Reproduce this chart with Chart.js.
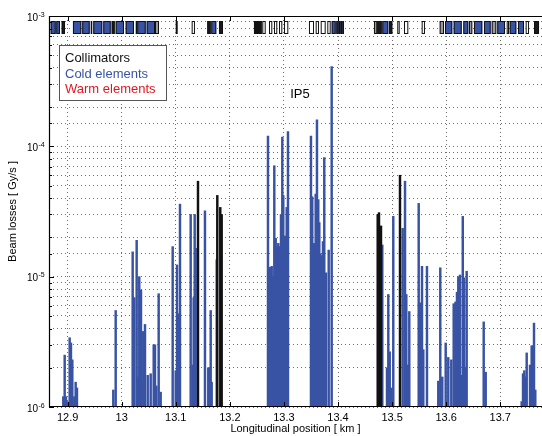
<!DOCTYPE html>
<html>
<head>
<meta charset="utf-8">
<title>Beam losses around IP5</title>
<script src="https://cdn.jsdelivr.net/npm/chart.js@4.4.1/dist/chart.umd.min.js"></script>
<style>
  html, body { margin: 0; padding: 0; background: #fff; }
  #lossChart { display: block; }
</style>
</head>
<body>
<canvas id="lossChart" width="542" height="436"></canvas>
<script>
// loss monitor readings, position in km and loss in Gy/s
const coldPositions = [
  12.8920, 12.8946, 12.8970, 12.8989, 12.9038, 12.9062, 12.9087, 12.9124, 12.9149, 12.9173,
  12.9845, 12.9889,
  13.0203, 13.0233, 13.0277, 13.0296, 13.0325, 13.0357, 13.0399, 13.0431, 13.0481, 13.0536,
  13.0592, 13.0616, 13.0640, 13.0684, 13.0721,
  13.0943, 13.0999, 13.1023, 13.1041, 13.1060, 13.1078, 13.1276, 13.1313, 13.1331, 13.1350,
  13.1368, 13.1540, 13.1601, 13.1620, 13.1646, 13.1664, 13.1757,
  13.2705, 13.2742, 13.2774, 13.2798, 13.2822, 13.2848, 13.2872, 13.2896, 13.2922, 13.2946,
  13.2970, 13.2988, 13.3020, 13.3051, 13.3075,
  13.3500, 13.3524, 13.3556, 13.3587, 13.3611, 13.3635, 13.3654, 13.3672, 13.3698, 13.3722,
  13.3746, 13.3778, 13.3828, 13.3883,
  13.4819, 13.4906, 13.4930, 13.4956, 13.4980, 13.5022, 13.5196, 13.5239, 13.5263, 13.5289,
  13.5318, 13.5492, 13.5521, 13.5553, 13.5577, 13.5645,
  13.5854, 13.5891, 13.5928, 13.5991, 13.6039, 13.6095, 13.6139, 13.6172, 13.6200, 13.6224,
  13.6255, 13.6280, 13.6307, 13.6330, 13.6348, 13.6379,
  13.6694, 13.6731,
  13.7396, 13.7421, 13.7445, 13.7470, 13.7489, 13.7550, 13.7581, 13.7605, 13.7624, 13.7648
];
const coldLosses = [
  1.2e-6, 2.5e-6, 1.2e-6, 1.1e-6, 3.4e-6, 3.1e-6, 2.3e-6, 1.2e-6, 1.55e-6, 1.4e-6,
  1.35e-6, 5.5e-6,
  1.55e-5, 6.9e-6, 1.9e-5, 1.7e-6, 1.0e-5, 7.9e-6, 3.8e-6, 4.3e-6, 1.75e-6, 1.8e-6,
  3.0e-6, 3.0e-6, 1.45e-6, 7.4e-6, 1.3e-6,
  1.7e-5, 1.9e-6, 1.23e-5, 4.2e-6, 5.2e-6, 3.6e-5, 3.0e-5, 2.1e-6, 6.9e-6, 3.0e-5,
  1.65e-5, 3.2e-5, 2.0e-6, 2.0e-6, 5.5e-6, 1.55e-6, 1.35e-5,
  1.2e-4, 1.18e-5, 1.2e-5, 1.0e-5, 7.1e-5, 1.97e-5, 1.7e-5, 1.8e-5, 1.7e-5, 3.0e-5,
  1.18e-4, 4.2e-5, 2.05e-5, 3.4e-5, 1.3e-4,
  1.2e-4, 4.1e-5, 1.8e-5, 4.3e-5, 1.6e-4, 3.9e-5, 2.6e-5, 1.5e-5, 1.45e-5, 1.86e-5,
  8.2e-5, 1.07e-5, 1.6e-5, 4.1e-4,
  1.75e-5, 2.0e-6, 7.3e-6, 2.65e-6, 1.4e-6, 2.9e-5, 2.35e-5, 5.4e-5, 7.3e-6, 2.1e-6,
  5.4e-6, 3.65e-5, 6.3e-6, 1.2e-5, 2.75e-6, 1.2e-5,
  1.58e-6, 1.17e-5, 1.7e-6, 3.1e-6, 2.4e-6, 2.3e-6, 6.2e-6, 6.4e-6, 7.6e-6, 1.0e-5,
  1.03e-5, 1.75e-6, 2.9e-5, 9.8e-6, 2.0e-6, 1.1e-5,
  4.5e-6, 1.85e-6,
  1.1e-6, 1.8e-6, 1.9e-6, 1.7e-6, 2.6e-6, 2.1e-6, 2.95e-6, 2.95e-6, 4.4e-6, 1.35e-6
];
const collimatorPositions = [13.1411, 13.1768, 13.1823, 13.1849, 13.4734, 13.4758, 13.4795, 13.5146];
const collimatorLosses = [5.4e-5, 4.2e-5, 3.4e-5, 3.0e-5, 3.0e-5, 3.1e-5, 2.45e-5, 6.0e-5];
const warmPositions = [];
const warmLosses = [];

// machine layout strip along the top (start, end in km)
const elementStart = [
  12.8687, 12.8791, 12.8891, 12.9099, 12.9271, 12.9427, 12.9475, 12.9660, 12.9815, 12.9889,
  13.0074, 13.0259, 13.0288, 13.0462, 13.0616, 13.0999, 13.1294, 13.1583, 13.1657, 13.1799,
  13.2446, 13.2483, 13.2520, 13.2557, 13.2600, 13.2724, 13.2816, 13.2909, 13.3001,
  13.3463, 13.3587, 13.3680, 13.3802, 13.3883, 13.3968, 13.4005, 13.4042, 13.4079,
  13.4665, 13.4726, 13.4819, 13.4943, 13.5096, 13.5220, 13.5547,
  13.5880, 13.5978, 13.6139, 13.6317, 13.6422, 13.6514, 13.6699, 13.6842, 13.6945, 13.7119,
  13.7175, 13.7328, 13.7470, 13.7624
];
const elementEnd = [
  12.8780, 12.8859, 12.8952, 12.9253, 12.9408, 12.9456, 12.9641, 12.9797, 12.9871, 13.0043,
  13.0227, 13.0288, 13.0444, 13.0616, 13.0690, 13.1036, 13.1355, 13.1646, 13.1749, 13.1873,
  13.2483, 13.2520, 13.2557, 13.2600, 13.2663, 13.2785, 13.2877, 13.2970, 13.3081,
  13.3556, 13.3648, 13.3772, 13.3865, 13.3957, 13.4005, 13.4042, 13.4079, 13.4111,
  13.4726, 13.4808, 13.4930, 13.5004, 13.5141, 13.5300, 13.5608,
  13.5960, 13.6113, 13.6287, 13.6409, 13.6483, 13.6668, 13.6823, 13.6927, 13.7088, 13.7162,
  13.7297, 13.7439, 13.7531, 13.7717
];
const elementKind = [
  'cold', 'cold', 'coll', 'cold', 'cold', 'warm', 'cold', 'cold', 'coll', 'cold',
  'cold', 'warm', 'cold', 'cold', 'other', 'warm', 'warm', 'coll', 'cold', 'coll',
  'cold', 'cold', 'cold', 'cold', 'warm', 'warm', 'warm', 'warm', 'warm',
  'warm', 'warm', 'warm', 'warm', 'cold', 'cold', 'cold', 'cold', 'cold',
  'other', 'coll', 'cold', 'coll', 'warm', 'warm', 'warm',
  'other', 'cold', 'cold', 'cold', 'other', 'cold', 'cold', 'other', 'cold', 'warm',
  'cold', 'cold', 'warm', 'coll'
];

const xMin = 12.8656;
const xMax = 13.7772;
const yMin = 1e-6;
const yMax = 1e-3;
const yDecades = [1e-6, 1e-5, 1e-4, 1e-3];
const ipLabel = { text: 'IP5', x: 13.3297, y: 2.5e-4 };

const FONT = "'Liberation Sans', Arial, Helvetica, sans-serif";
const BLUE = '#3953a4';
Chart.defaults.font.family = FONT;

const toPoints = (xs, ys) => xs.map((x, i) => ({ x: x, y: ys[i] }));

// strip, frame, decade labels, IP label and the boxed legend
const decorations = {
  id: 'decorations',
  afterDatasetsDraw(chart) {
    const { ctx, chartArea: area, scales: { x, y } } = chart;
    ctx.save();

    // layout strip
    const top = area.top + 5;
    const h = 13;
    ctx.lineWidth = 1;
    elementStart.forEach((s, i) => {
      const x0 = x.getPixelForValue(s);
      const x1 = x.getPixelForValue(elementEnd[i]);
      const kind = elementKind[i];
      ctx.fillStyle = kind === 'cold' ? BLUE : kind === 'coll' ? '#1a1a1a' : kind === 'other' ? '#9a9a9a' : '#fff';
      ctx.fillRect(x0, top, x1 - x0, h);
      ctx.strokeStyle = '#111';
      ctx.strokeRect(x0 + 0.5, top + 0.5, Math.max(x1 - x0 - 1, 0.5), h - 1);
    });

    // axes frame
    ctx.strokeStyle = '#000';
    ctx.lineWidth = 1.2;
    ctx.beginPath();
    ctx.moveTo(area.right, area.top + 0.5);
    ctx.lineTo(area.left + 0.5, area.top + 0.5);
    ctx.lineTo(area.left + 0.5, area.bottom - 0.5);
    ctx.lineTo(area.right, area.bottom - 0.5);
    ctx.stroke();

    // tick marks
    ctx.lineWidth = 1;
    ctx.beginPath();
    x.ticks.forEach((t) => {
      const px = Math.round(x.getPixelForValue(t.value)) + 0.5;
      ctx.moveTo(px, area.top);
      ctx.lineTo(px, area.top + 5);
      ctx.moveTo(px, area.bottom);
      ctx.lineTo(px, area.bottom - 5);
    });
    y.ticks.forEach((t) => {
      const py = Math.round(y.getPixelForValue(t.value)) + 0.5;
      ctx.moveTo(area.left, py);
      ctx.lineTo(area.left + (t.major ? 5 : 3), py);
    });
    ctx.stroke();

    // decade labels 10^n
    ctx.fillStyle = '#000';
    yDecades.forEach((v) => {
      const py = y.getPixelForValue(v);
      const exp = String(Math.round(Math.log10(v)));
      ctx.font = '10px ' + FONT;
      ctx.textAlign = 'right';
      ctx.textBaseline = 'alphabetic';
      ctx.fillText('10', area.left - 11, py + 4.5);
      ctx.font = '7px ' + FONT;
      ctx.textAlign = 'left';
      ctx.fillText(exp, area.left - 10.5, py + 0.7);
    });

    // IP label
    ctx.font = '13px ' + FONT;
    ctx.textAlign = 'center';
    ctx.textBaseline = 'middle';
    ctx.fillText(ipLabel.text, x.getPixelForValue(ipLabel.x), y.getPixelForValue(ipLabel.y));

    // legend box
    const lx = area.left + 10.5;
    const ly = area.top + 29.5;
    ctx.fillStyle = '#fff';
    ctx.fillRect(lx, ly, 107, 55);
    ctx.strokeStyle = '#555';
    ctx.lineWidth = 1;
    ctx.strokeRect(lx, ly, 107, 55);
    ctx.font = '13px ' + FONT;
    ctx.textAlign = 'left';
    ctx.textBaseline = 'middle';
    chart.data.datasets.forEach((ds, i) => {
      ctx.fillStyle = ds.backgroundColor;
      ctx.fillText(ds.label, lx + 5.5, ly + 13 + i * 15.5);
    });

    ctx.restore();
  }
};

new Chart(document.getElementById('lossChart'), {
  type: 'bar',
  data: {
    datasets: [{
      label: 'Collimators',
      data: toPoints(collimatorPositions, collimatorLosses),
      backgroundColor: '#111111',
      barThickness: 1.8,
      grouped: false,
      base: yMin
    }, {
      label: 'Cold elements',
      data: toPoints(coldPositions, coldLosses),
      backgroundColor: BLUE,
      barThickness: 1.8,
      grouped: false,
      base: yMin
    }, {
      label: 'Warm elements',
      data: toPoints(warmPositions, warmLosses),
      backgroundColor: '#e3161e',
      barThickness: 1.8,
      grouped: false,
      base: yMin
    }]
  },
  options: {
    responsive: false,
    animation: false,
    events: [],
    layout: { padding: { top: 16, right: 0, bottom: 0, left: 0 } },
    plugins: {
      legend: { display: false },
      tooltip: { enabled: false }
    },
    scales: {
      x: {
        type: 'linear',
        min: xMin,
        max: xMax,
        offset: false,
        grid: {
          offset: false,
          color: '#6e6e6e',
          lineWidth: 1,
          drawTicks: false
        },
        border: { display: false, dash: [1, 3] },
        ticks: {
          stepSize: 0.1,
          includeBounds: false,
          autoSkip: false,
          maxRotation: 0,
          padding: 4,
          color: '#000',
          font: { size: 11 },
          callback: (v) => String(Math.round(v * 10) / 10)
        },
        title: {
          display: true,
          text: 'Longitudinal position [ km ]',
          color: '#000',
          font: { size: 11 },
          padding: { top: 0, bottom: 0 }
        },
        afterFit: (scale) => { scale.height = 29; }
      },
      y: {
        type: 'logarithmic',
        min: yMin,
        max: yMax,
        grid: {
          color: '#6e6e6e',
          lineWidth: 1,
          drawTicks: false
        },
        border: { display: false, dash: [1, 3] },
        ticks: { display: false },
        title: {
          display: true,
          text: 'Beam losses [ Gy/s ]',
          color: '#000',
          font: { size: 11 },
          padding: { top: 6, bottom: 0 }
        },
        afterFit: (scale) => { scale.width = 49; }
      }
    }
  },
  plugins: [decorations]
});
</script>
</body>
</html>
